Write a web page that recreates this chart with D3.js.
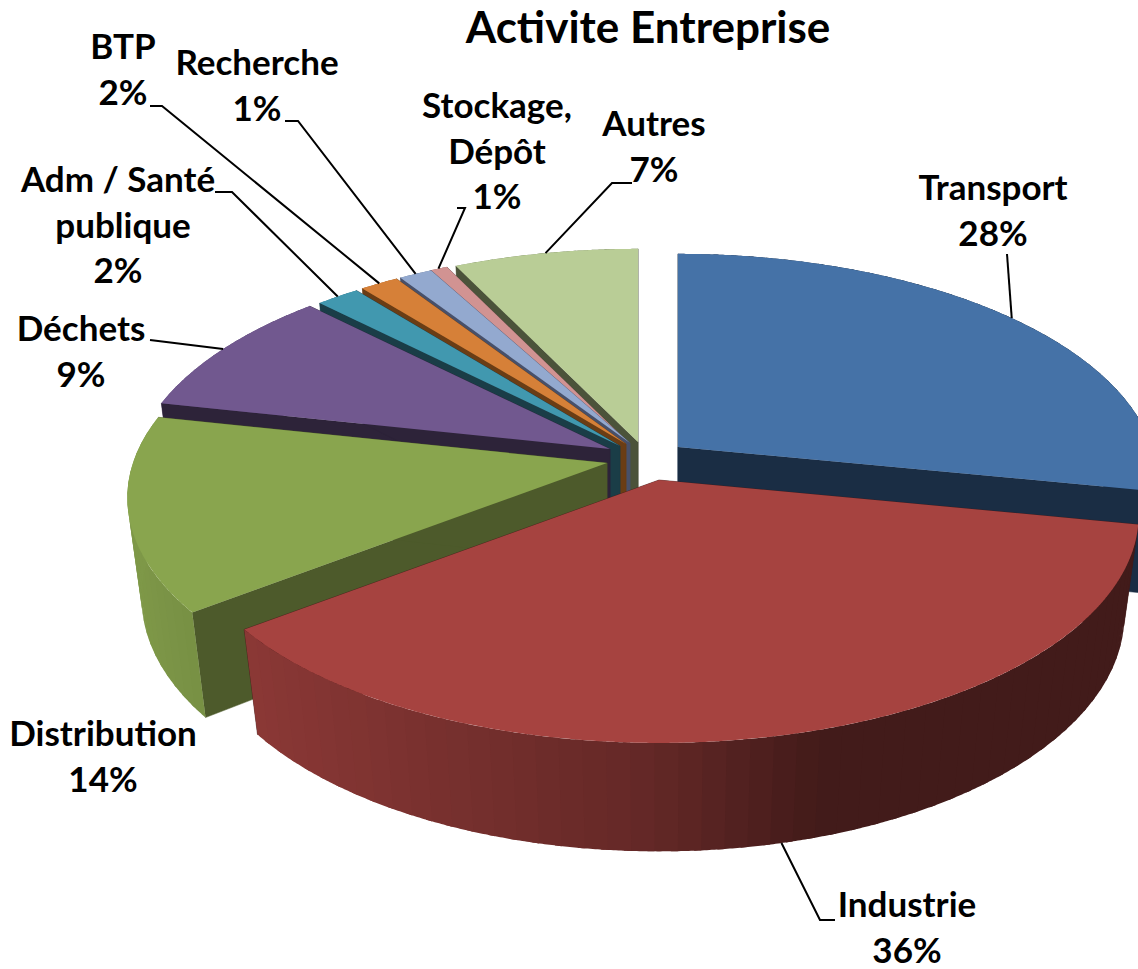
<!DOCTYPE html>
<html><head><meta charset="utf-8">
<script src="https://cdn.jsdelivr.net/npm/d3@7/dist/d3.min.js"></script>
<style>html,body{margin:0;padding:0;background:#fff;overflow:hidden}svg{display:block}
text{font-family:Lato,"Open Sans",sans-serif;font-weight:700;fill:#000}</style></head>
<body><svg id="c" width="1138" height="969"></svg>
<script>
// Data
const categories = ["Transport","Industrie","Distribution","Déchets","Adm / Santé publique","BTP","Recherche","Stockage, Dépôt","Autres"];
const shares = [28.1,36.49,13.81,9.2,1.7,1.5,1.3,0.7,7.2];
// Style and layout, kept apart from the data
const topColors = ["#4572A7","#A64340","#89A54E","#71588F","#4198AF","#D68038","#93A9CF","#D19392","#B9CD96"];
const sideColors = ["#1A2D44","#431A18","#4D5A2B","#2D2339","#1A3D47","#6A3D15","#47506A","#5E4444","#4B533A"];
const apexes = [[678,447],[659,480],[607,463],[610,449],[620,446],[626,444],[630,443],[629,443],[638,442]];
const labelLines = [["Transport"],["Industrie"],["Distribution"],["Déchets"],["Adm / Santé","publique"],["BTP"],["Recherche"],["Stockage,","Dépôt"],["Autres"]];
const labelX = [993,907,103,81,118,123,257,497,654];
const labelY = [200,917,746,341,192,59,75,118,136];
const knees = [[[1007,254]],[[835,920],[820,920]],[],[[150,340]],[[215,192],[232,192]],[[150,106],[162,106]],[[285,121],[298,121]],[[457,208],[465,208]],[[632,183],[612,183]]];
const leaderOnBase = [false,true,false,false,false,false,false,false,false];
const drawOrder = [8,7,6,5,4,3,0,2,1];

const A=474,B=222.7,C=103,P=0.153,Q=0.03;
function project(i,theta,r,z){
  const X=r*Math.sin(theta),Y=-r*Math.cos(theta),w=1-P*Y+Q*z;
  return [apexes[i][0]+A*X/w, apexes[i][1]+(B*Y+C*z)/w];
}
const line=d3.line();
const shade=d3.scaleLinear().domain([130,250,650,820]).range([.92,.83,.6,.4]).clamp(true);
const arcs=d3.pie().sort(null).value(d=>d)(shares);
const svg=d3.select("#c");
const bandStep=Math.PI/72, fineStep=0.005;
function fineAngles(a0,a1){const n=Math.max(1,Math.ceil((a1-a0)/fineStep));
  return d3.range(n+1).map(k=>a0+(a1-a0)*k/n);}
function bands(a){const n=Math.max(1,Math.ceil((a.endAngle-a.startAngle)/bandStep));
  return d3.range(n).map(k=>[a.startAngle+(a.endAngle-a.startAngle)*k/n,a.startAngle+(a.endAngle-a.startAngle)*(k+1)/n]);}
function drawBands(g,i,list){
  list.forEach(([t0,t1],k)=>{
    const next=Math.min(t1+bandStep*0.3,arcs[i].endAngle);
    const ang=fineAngles(t0,k<list.length-1?next:t1);
    const pts=ang.map(t=>project(i,t,1,0)).concat(ang.slice().reverse().map(t=>project(i,t,1,1)));
    const c=d3.rgb(topColors[i]),s=shade(project(i,(t0+t1)/2,1,0)[0]);
    g.append("path").attr("fill",d3.rgb(c.r*s,c.g*s,c.b*s).formatHex()).attr("d",line(pts)+"Z");
  });
}

drawOrder.forEach(i=>{
  const a=arcs[i],g=svg.append("g"),bs=bands(a);
  const facing=b=>Math.cos((b[0]+b[1])/2)<=0;
  // the part of the rim that faces away lies behind the radial walls
  drawBands(g,i,bs.filter(b=>!facing(b)));
  [a.startAngle,a.endAngle].forEach(t=>{
    g.append("path").attr("fill",sideColors[i]).attr("stroke",sideColors[i]).attr("stroke-width",.5)
     .attr("d",line([project(i,t,0,0),project(i,t,1,0),project(i,t,1,1),project(i,t,0,1)])+"Z");
  });
  drawBands(g,i,bs.filter(facing));
  g.append("path").attr("fill",topColors[i])
   .attr("d",line([project(i,0,0,0),...fineAngles(a.startAngle,a.endAngle).map(t=>project(i,t,1,0))])+"Z");
});

// leaders
categories.forEach((c,i)=>{
  if(!knees[i].length) return;
  const t=(arcs[i].startAngle+arcs[i].endAngle)/2;
  const end=project(i,t,1,leaderOnBase[i]?1:0);
  svg.append("path").attr("fill","none").attr("stroke","#000").attr("stroke-width",2)
   .attr("d",line([...knees[i],end]));
});

// labels
const fs=35, lh=45.5;
const pct=d3.format(".0f");
categories.forEach((c,i)=>{
  const lines=[...labelLines[i],pct(shares[i])+"%"];
  lines.forEach((t,k)=>{
    svg.append("text").attr("x",labelX[i]+(t==="publique"?5:0)).attr("y",labelY[i]+k*lh)
      .attr("text-anchor","middle").attr("font-size",fs).text(t);
  });
});
svg.append("text").attr("x",648).attr("y",43).attr("text-anchor","middle").attr("font-size",44).text("Activite Entreprise");
</script></body></html>
